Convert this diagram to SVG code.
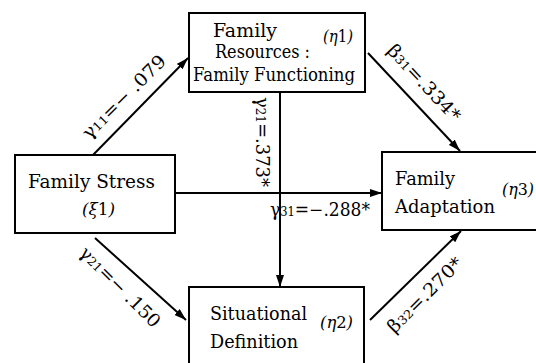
<svg xmlns="http://www.w3.org/2000/svg" width="536" height="363" viewBox="0 0 536 363">
<style>
text{font-family:"DejaVu Serif","Liberation Serif",serif;fill:#000}
.box{fill:#fff;stroke:#000;stroke-width:2}
.t{font-size:19px}
.e{font-size:16px;font-style:italic}
.lb{font-size:18px}
.s{font-size:12px}
.c{stroke:#000;stroke-width:2;fill:none}
</style>
<defs>
<marker id="ah" viewBox="0 0 12 8" refX="12" refY="4" markerWidth="12" markerHeight="8" markerUnits="userSpaceOnUse" orient="auto">
<path d="M0,0 L12,4 L0,8 Z" fill="#000"/>
</marker>
</defs>
<rect width="536" height="363" fill="#fff"/>
<g id="connectors">
<line class="c" x1="93" y1="155" x2="188" y2="58" marker-end="url(#ah)"/>
<line class="c" x1="95" y1="238" x2="186" y2="320" marker-end="url(#ah)"/>
<line class="c" x1="368" y1="53" x2="460" y2="151" marker-end="url(#ah)"/>
<line class="c" x1="370" y1="320" x2="461" y2="231" marker-end="url(#ah)"/>
<line class="c" x1="175" y1="193" x2="382" y2="193" marker-end="url(#ah)"/>
<line class="c" x1="280" y1="92" x2="280" y2="287" marker-end="url(#ah)"/>
<text class="lb" transform="translate(124,97) rotate(-45)" text-anchor="middle" y="6" textLength="110" lengthAdjust="spacingAndGlyphs">γ<tspan class="s">11</tspan>=− .079</text>
<text class="lb" transform="translate(120,287) rotate(45)" text-anchor="middle" y="6" textLength="106" lengthAdjust="spacingAndGlyphs">γ<tspan class="s">21</tspan>=− .150</text>
<text class="lb" transform="translate(424,83) rotate(47)" text-anchor="middle" y="6" textLength="98" lengthAdjust="spacingAndGlyphs">β<tspan class="s">31</tspan>=.334*</text>
<text class="lb" transform="translate(425,295) rotate(-45)" text-anchor="middle" y="6" textLength="98" lengthAdjust="spacingAndGlyphs">β<tspan class="s">32</tspan>=.270*</text>
<text class="lb" transform="translate(262,142) rotate(90)" text-anchor="middle" y="6" textLength="90" lengthAdjust="spacingAndGlyphs">γ<tspan class="s">21</tspan>=.373*</text>
<text class="lb" x="270" y="216" textLength="100" lengthAdjust="spacingAndGlyphs">γ<tspan class="s">31</tspan>=−.288*</text>
</g>
<g id="family-resources">
<rect class="box" x="189" y="13" width="176" height="79"/>
<text class="t" x="213" y="37" textLength="64" lengthAdjust="spacingAndGlyphs">Family</text>
<text class="t" x="215" y="58" textLength="95" lengthAdjust="spacingAndGlyphs">Resources :</text>
<text class="t" x="193" y="81" textLength="162" lengthAdjust="spacingAndGlyphs">Family Functioning</text>
<text class="e" x="323" y="42" textLength="30" lengthAdjust="spacingAndGlyphs">(η<tspan font-style="normal">1</tspan>)</text>
</g>
<g id="family-stress">
<rect class="box" x="15" y="155" width="160" height="78"/>
<text class="t" x="28" y="188" textLength="127" lengthAdjust="spacingAndGlyphs">Family Stress</text>
<text class="e" x="82" y="215" textLength="33" lengthAdjust="spacingAndGlyphs">(ξ<tspan font-style="normal">1</tspan>)</text>
</g>
<g id="family-adaptation">
<rect class="box" x="382" y="152" width="160" height="78"/>
<text class="t" x="395" y="185" textLength="60" lengthAdjust="spacingAndGlyphs">Family</text>
<text class="t" x="395" y="213" textLength="100" lengthAdjust="spacingAndGlyphs">Adaptation</text>
<text class="e" x="502" y="195" textLength="32" lengthAdjust="spacingAndGlyphs">(η<tspan font-style="normal">3</tspan>)</text>
</g>
<g id="situational-definition">
<rect class="box" x="189" y="287" width="175" height="90"/>
<text class="t" x="210" y="320" textLength="97" lengthAdjust="spacingAndGlyphs">Situational</text>
<text class="t" x="210" y="348" textLength="88" lengthAdjust="spacingAndGlyphs">Definition</text>
<text class="e" x="320" y="328" textLength="33" lengthAdjust="spacingAndGlyphs">(η<tspan font-style="normal">2</tspan>)</text>
</g>
</svg>
